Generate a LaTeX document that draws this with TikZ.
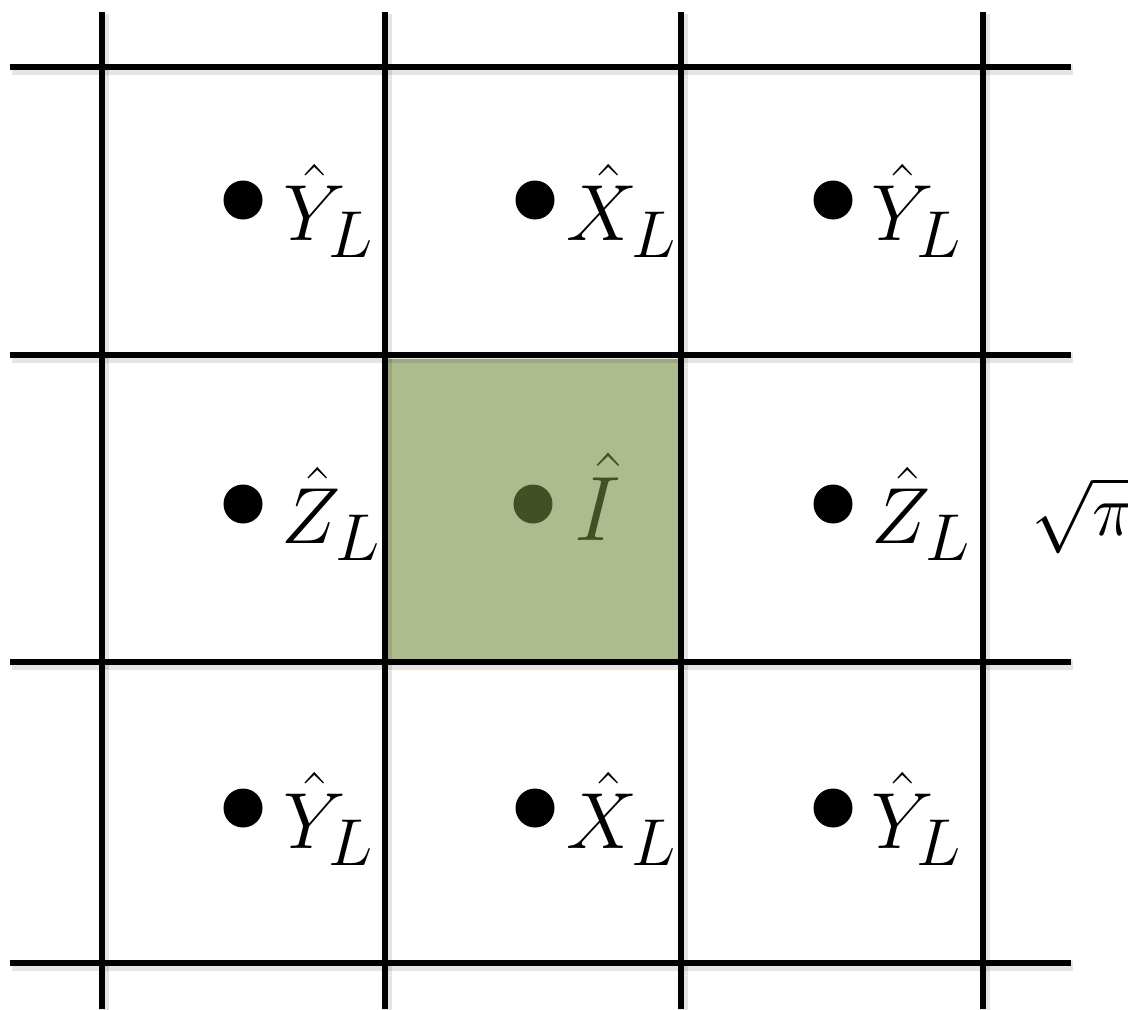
\documentclass[tikz,border=0pt]{standalone}
\definecolor{cellgreen}{HTML}{ADBB8F}
\definecolor{darkgreen}{HTML}{434F24}
\begin{document}
\begin{tikzpicture}[x=0.5pt,y=-0.5pt,
  gridline/.style={line width=3.4pt, black},
  gridshadow/.style={line width=5pt, black, opacity=0.10},
  dotmark/.style={circle, fill=black, minimum size=19.5pt, inner sep=0pt},
  lab/.style={anchor=base west, inner sep=0pt, font=\Huge, scale=1.6}]
\useasboundingbox[fill=white] (0,0) rectangle (1128,1009);
% highlighted cell
\fill[cellgreen] (387,359) rectangle (681,660);
\draw[darkgreen!70, line width=0.6pt] (681,359) -- (681,660);
% grid shadows
\foreach \y in {67,355,662,963} \draw[gridshadow] (12,\y+3) -- (1073,\y+3);
\foreach \x in {102,385,681,983} \draw[gridshadow] (\x+2,14) -- (\x+2,1010);
% grid lines
\foreach \y in {67,355,662,963} \draw[gridline] (10,\y) -- (1071,\y);
\foreach \x in {102,385,681,983} \draw[gridline] (\x,12) -- (\x,1009);
% dots and labels
\node[dotmark] (d11) at (243,200) {};
\node[lab] (l11) at (283,240) {$\hat{Y}_L$};
\node[dotmark] (d12) at (535,200) {};
\node[lab] (l12) at (566,240) {$\hat{X}_L$};
\node[dotmark] (d13) at (833,200) {};
\node[lab] (l13) at (871,240) {$\hat{Y}_L$};
\node[dotmark] (d21) at (243,504) {};
\node[lab] (l21) at (281,543) {$\hat{Z}_L$};
\node[dotmark, fill=darkgreen] (d22) at (533,504) {};
\node[lab, scale=1.15, text=darkgreen] (l22) at (574,540) {$\hat{I}$};
\node[dotmark] (d23) at (833,504) {};
\node[lab] (l23) at (871,543) {$\hat{Z}_L$};
\node[dotmark] (d31) at (243,808) {};
\node[lab] (l31) at (283,848) {$\hat{Y}_L$};
\node[dotmark] (d32) at (535,808) {};
\node[lab] (l32) at (566,848) {$\hat{X}_L$};
\node[dotmark] (d33) at (833,808) {};
\node[lab] (l33) at (871,848) {$\hat{Y}_L$};
% side label
\node[lab, scale=0.92] (root) at (1031,535) {$\sqrt{\pi}$};
\end{tikzpicture}
\end{document}
